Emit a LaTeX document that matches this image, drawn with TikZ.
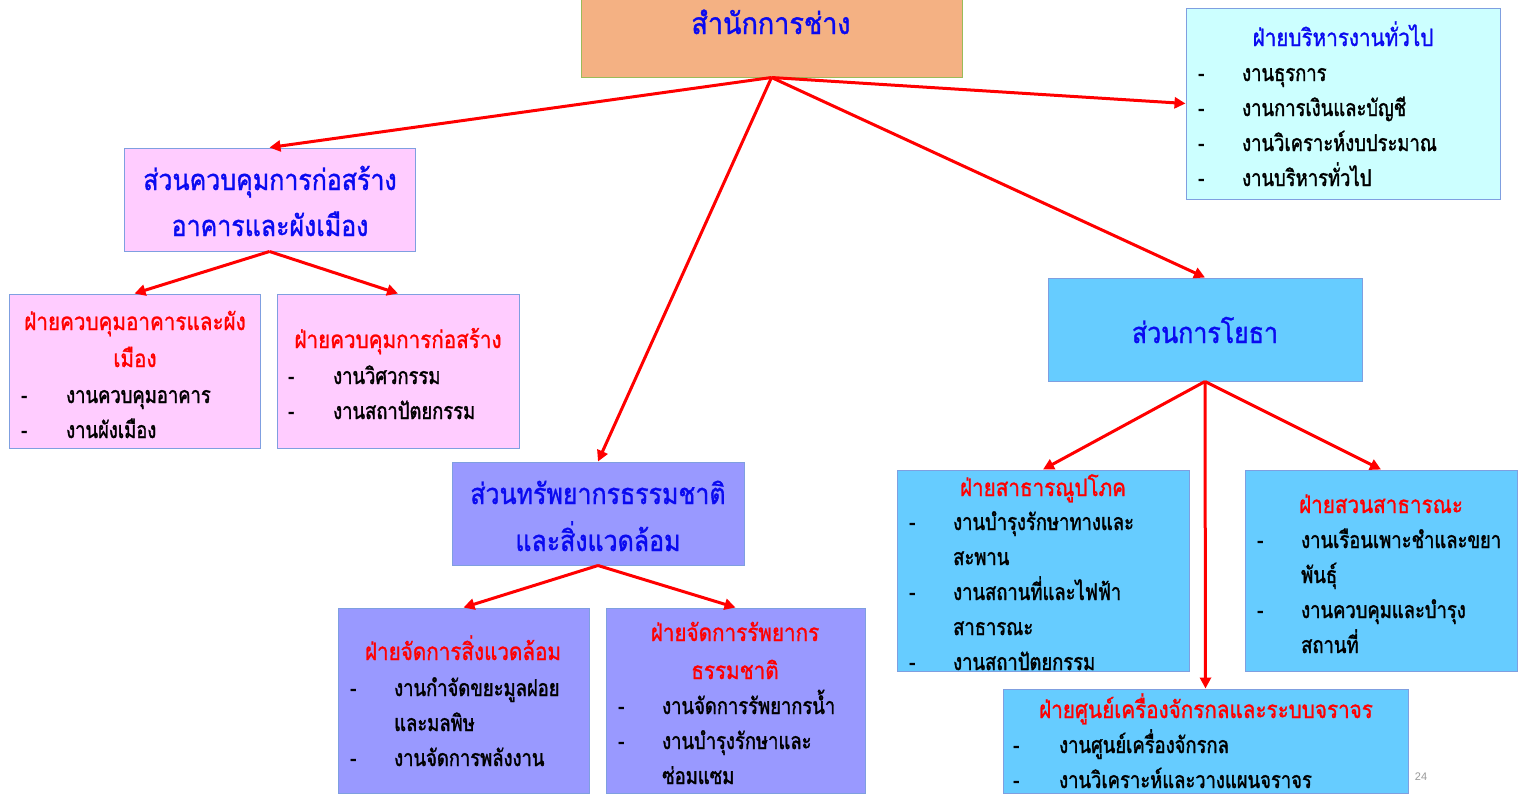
\documentclass[tikz,border=0pt]{standalone}
\usepackage{fontspec}
\usetikzlibrary{arrows.meta,fit}
\newfontfamily\thaititle[Script=Thai,FakeBold=1.2,FakeStretch=0.9]{Loma}
\newfontfamily\thai[Script=Thai,FakeBold=1.2,FakeStretch=0.86]{Loma}
\newfontfamily\thaisub[Script=Thai,FakeBold=1.2,FakeStretch=0.86]{Loma}
\newfontfamily\thaibody[Script=Thai,FakeBold=1.5,FakeStretch=0.8]{Loma}
\definecolor{hblue}{HTML}{0A0AF0}
\definecolor{hred}{HTML}{FF0000}
\definecolor{peach}{HTML}{F4B183}
\definecolor{cyanf}{HTML}{CCFFFF}
\definecolor{pinkf}{HTML}{FFCCFF}
\definecolor{purpf}{HTML}{9999FF}
\definecolor{bluef}{HTML}{66CCFF}
\definecolor{bord}{HTML}{7F9FE0}
\definecolor{gbord}{HTML}{9BBB59}
\tikzset{
  box/.style={draw=bord, line width=1pt, inner sep=0pt},
  arr/.style={draw=red, line width=3pt, -{Triangle[length=11pt,width=11pt]}, shorten >=0pt},
  ttl/.style={inner sep=0pt, anchor=base, text=hblue, font=\thaititle\fontsize{30}{32}\selectfont},
  hd/.style={inner sep=0pt, anchor=base, text=hblue, font=\thai\fontsize{29}{31}\selectfont},
  sub/.style={inner sep=0pt, anchor=base, text=hred, font=\thaisub\fontsize{24}{26}\selectfont},
  itm/.style={inner sep=0pt, anchor=base west, text=black, font=\thaibody\fontsize{23}{25}\selectfont},
}
\begin{document}
\begin{tikzpicture}[x=1pt,y=-1pt]
\useasboundingbox (0,0) rectangle (1527,809);
\fill[white] (0,0) rectangle (1527,809);
% boxes
\node[box, draw=gbord, fill=peach, fit={(581,-5) (962,77)}] (top) {};
\node[box, fill=cyanf, fit={(1186,8) (1500,199)}] (b2) {};
\node[box, fill=pinkf, fit={(124,148) (415,251)}] (b3) {};
\node[box, fill=pinkf, fit={(9,294) (260,448)}] (b4) {};
\node[box, fill=pinkf, fit={(277,294) (519,448)}] (b5) {};
\node[box, fill=purpf, fit={(452,462) (744,565)}] (b6) {};
\node[box, fill=purpf, fit={(338,608) (589,793)}] (b7) {};
\node[box, fill=purpf, fit={(606,608) (865,793)}] (b8) {};
\node[box, fill=bluef, fit={(1048,278) (1362,381)}] (b9) {};
\node[box, fill=bluef, fit={(897,470) (1189,671)}] (b10) {};
\node[box, fill=bluef, fit={(1245,470) (1517,671)}] (b11) {};
\node[box, fill=bluef, fit={(1003,689) (1408,793)}] (b12) {};
% arrows
\draw[arr] (top.south) -- (b3.north);
\draw[arr] (top.south) -- (b6.north);
\draw[arr] (top.south) -- (b2.west);
\draw[arr] (top.south) -- (b9.north);
\draw[arr] (b3.south) -- (b4.north);
\draw[arr] (b3.south) -- (b5.north);
\draw[arr] (b6.south) -- (b7.north);
\draw[arr] (b6.south) -- (b8.north);
\draw[arr] (b9.south) -- (b10.north);
\draw[arr] (b9.south) -- (b11.north);
\draw[arr] (b9.south) -- (b12.north);
% texts
\node[ttl] (t1) at (771,34) {สำนักการช่าง};
% b2
\node[sub, text=hblue] (t2) at (1343,46) {ฝ่ายบริหารงานทั่วไป};
\node[itm] (d21) at (1198,81) {-}; \node[itm] (t21) at (1242,81) {งานธุรการ};
\node[itm] (d22) at (1198,116) {-}; \node[itm] (t22) at (1242,116) {งานการเงินและบัญชี};
\node[itm] (d23) at (1198,151) {-}; \node[itm] (t23) at (1242,151) {งานวิเคราะห์งบประมาณ};
\node[itm] (d24) at (1198,186) {-}; \node[itm] (t24) at (1242,186) {งานบริหารทั่วไป};
% b3
\node[hd] (t3a) at (270,190) {ส่วนควบคุมการก่อสร้าง};
\node[hd] (t3b) at (270,236) {อาคารและผังเมือง};
% b4
\node[sub] (t4a) at (135,330) {ฝ่ายควบคุมอาคารและผัง};
\node[sub] (t4b) at (135,367) {เมือง};
\node[itm] (d41) at (21,403) {-}; \node[itm] (t41) at (66,403) {งานควบคุมอาคาร};
\node[itm] (d42) at (21,438) {-}; \node[itm] (t42) at (66,438) {งานผังเมือง};
% b5
\node[sub] (t5) at (398,348) {ฝ่ายควบคุมการก่อสร้าง};
\node[itm] (d51) at (288,384) {-}; \node[itm] (t51) at (333,384) {งานวิศวกรรม};
\node[itm] (d52) at (288,419) {-}; \node[itm] (t52) at (333,419) {งานสถาปัตยกรรม};
% b6
\node[hd] (t6a) at (598,504) {ส่วนทรัพยากรธรรมชาติ};
\node[hd] (t6b) at (598,551) {และสิ่งแวดล้อม};
% b7
\node[sub] (t7) at (463,660) {ฝ่ายจัดการสิ่งแวดล้อม};
\node[itm] (d71) at (350,696) {-}; \node[itm] (t71) at (394,696) {งานกำจัดขยะมูลฝอย};
\node[itm] (t71b) at (394,731) {และมลพิษ};
\node[itm] (d72) at (350,766) {-}; \node[itm] (t72) at (394,766) {งานจัดการพลังงาน};
% b8
\node[sub] (t8a) at (735,641) {ฝ่ายจัดการรัพยากร};
\node[sub] (t8b) at (735,679) {ธรรมชาติ};
\node[itm] (d81) at (618,714) {-}; \node[itm] (t81) at (662,714) {งานจัดการรัพยากรน้ำ};
\node[itm] (d82) at (618,749) {-}; \node[itm] (t82) at (662,749) {งานบำรุงรักษาและ};
\node[itm] (t82b) at (662,784) {ซ่อมแซม};
% b9
\node[hd] (t9) at (1205,343) {ส่วนการโยธา};
% b10
\node[sub] (t10) at (1043,496) {ฝ่ายสาธารณูปโภค};
\node[itm] (d101) at (909,530) {-}; \node[itm] (t101) at (953,530) {งานบำรุงรักษาทางและ};
\node[itm] (t101b) at (953,565) {สะพาน};
\node[itm] (d102) at (909,600) {-}; \node[itm] (t102) at (953,600) {งานสถานที่และไฟฟ้า};
\node[itm] (t102b) at (953,635) {สาธารณะ};
\node[itm] (d103) at (909,670) {-}; \node[itm] (t103) at (953,670) {งานสถาปัตยกรรม};
% b11
\node[sub] (t11) at (1381,513) {ฝ่ายสวนสาธารณะ};
\node[itm] (d111) at (1257,548) {-}; \node[itm] (t111) at (1301,548) {งานเรือนเพาะชำและขยา};
\node[itm] (t111b) at (1301,583) {พันธุ์};
\node[itm] (d112) at (1257,618) {-}; \node[itm] (t112) at (1301,618) {งานควบคุมและบำรุง};
\node[itm] (t112b) at (1301,653) {สถานที่};
% b12
\node[sub] (t12) at (1206,718) {ฝ่ายศูนย์เครื่องจักรกลและระบบจราจร};
\node[itm] (d121) at (1013,753) {-}; \node[itm] (t121) at (1059,753) {งานศูนย์เครื่องจักรกล};
\node[itm] (d122) at (1013,788) {-}; \node[itm] (t122) at (1059,788) {งานวิเคราะห์และวางแผนจราจร};
\node[inner sep=0pt, anchor=base, text=gray!80, font=\fontspec{Liberation Sans}\fontsize{11}{12}\selectfont] (pg) at (1421,780) {24};
\end{tikzpicture}
\end{document}
